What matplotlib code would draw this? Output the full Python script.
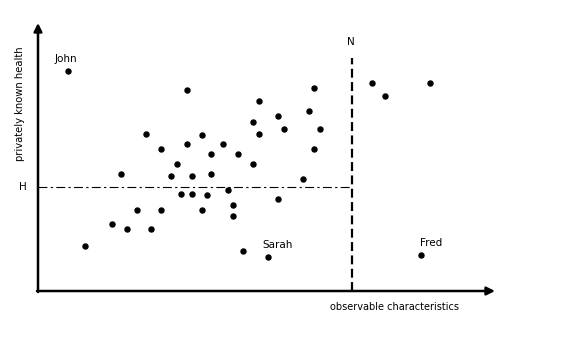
import matplotlib
matplotlib.use("Agg")
import matplotlib.pyplot as plt

# scatter of individuals (observable characteristics, privately known health)
obs_x = [47, 74, 83, 89, 99, 108, 113, 123, 123, 133, 139, 143, 149, 149, 154,
         154, 164, 164, 169, 173, 173, 185, 190, 195, 195, 200, 205, 215, 215,
         221, 221, 240, 240, 246, 265, 271, 276, 276, 282, 334, 347, 392]
health_y = [45, 67, 117, 62, 81, 157, 62, 142, 81, 115, 127, 97, 201, 147, 115,
            97, 156, 81, 96, 137, 117, 147, 101, 86, 75, 137, 40, 169, 127,
            190, 157, 175, 92, 162, 112, 180, 203, 142, 162, 208, 195, 208]

names = ["John", "Sarah", "Fred"]
name_x = [30, 230, 383]
name_y = [220, 34, 36]

H = 104      # health threshold
N = 314      # observable cutoff
N_top = 233
x_end = 457
y_end = 268

fig = plt.figure(figsize=(5.77, 3.38), dpi=100)
ax = fig.add_axes([0, 0, 1, 1])
ax.set_xlim(-38, 539)
ax.set_ylim(-47, 291)
ax.axis("off")

# axes arrows
ax.annotate("", xy=(x_end, 0), xytext=(-1, 0),
            arrowprops=dict(arrowstyle="-|>", lw=1.8, color="black",
                            mutation_scale=12, shrinkA=0, shrinkB=0))
ax.annotate("", xy=(0, y_end), xytext=(0, -1),
            arrowprops=dict(arrowstyle="-|>", lw=1.8, color="black",
                            mutation_scale=12, shrinkA=0, shrinkB=0))

# H and N lines
ax.plot([0, N], [H, H], color="black", lw=0.8, linestyle=(0, (8, 3, 2, 3)))
ax.plot([N, N], [0, N_top], color="black", lw=1.6, linestyle=(0, (4, 2)))

ax.scatter(obs_x, health_y, s=13, color="black", zorder=3)
ax.scatter(name_x, name_y, s=13, color="black", zorder=3)

for n, x, y in zip(names, name_x, name_y):
    ax.text(x - 2 if n == "John" else x + 10, y + 12, n, fontsize=7.5,
            ha="center", va="center")

ax.text(-15, H, "H", fontsize=7.5, ha="center", va="center")
ax.text(N - 1, 249, "N", fontsize=7.5, ha="center", va="center")
ax.text(356, -16, "observable characteristics", fontsize=7,
        ha="center", va="center")
ax.text(-18, 187, "privately known health", fontsize=7.2, rotation=90,
        ha="center", va="center")

fig.savefig("out.png", dpi=100)
